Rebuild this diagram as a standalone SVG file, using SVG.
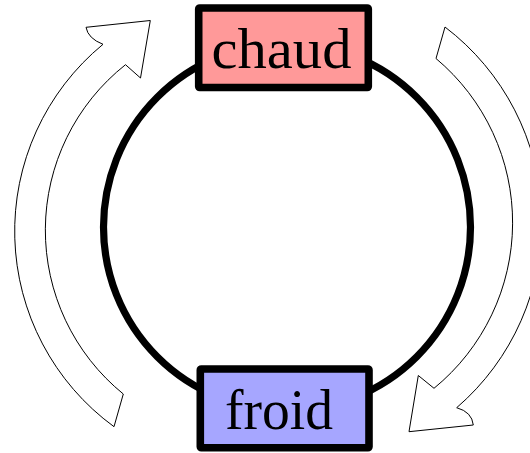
<svg xmlns="http://www.w3.org/2000/svg" width="530" height="453" viewBox="0 0 530 453">
  <style>
    .ring { fill: none; stroke: #000; stroke-width: 7.2; }
    .flow { fill: #fff; stroke: #000; stroke-width: 1; stroke-linejoin: miter; }
    .box { stroke: #000; stroke-width: 7.6; stroke-linejoin: round; }
    .label { font-family: "Liberation Serif", "DejaVu Serif", serif; font-size: 58px; fill: #000; text-anchor: middle; }
  </style>

  <!-- cycle path linking the two reservoirs, plus the two circulation arrows -->
  <g id="connectors">
    <circle class="ring" cx="287" cy="227" r="183.5"/>
    <!-- upward flow on the left -->
    <path class="flow" d="M 103,44.3 A 242,242 0 0 0 114,426.7 L 123.3,394 A 211,211 0 0 1 125.5,64.7 L 140.5,78 L 150.3,20.5 L 86,27.3 Q 88,38.5 103,44.3 Z"/>
    <!-- downward flow on the right -->
    <path class="flow" d="M 445,27 A 245,245 0 0 1 456.7,407.7 Q 472,412 473.3,425 L 409,431.7 L 418.3,375.5 L 434,388.3 A 214,214 0 0 0 436,58.5 Z"/>
  </g>

  <g id="chaud">
    <rect class="box" x="198.7" y="8" width="169.6" height="79.5" rx="1" fill="#ff9999"/>
    <text class="label" x="281.5" y="68" textLength="140" lengthAdjust="spacingAndGlyphs">chaud</text>
  </g>

  <g id="froid">
    <rect class="box" x="200.3" y="369" width="168.7" height="78.8" rx="1" fill="#a6a6ff"/>
    <text class="label" x="279" y="429" textLength="108" lengthAdjust="spacingAndGlyphs">froid</text>
  </g>
</svg>
